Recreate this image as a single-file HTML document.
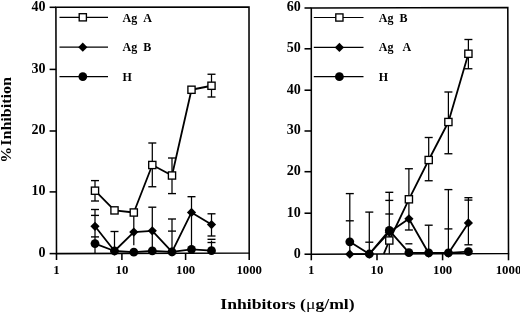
<!DOCTYPE html>
<html><head><meta charset="utf-8"><title>Inhibition chart</title>
<style>
html,body{margin:0;padding:0;background:#fff;}
body{width:520px;height:314px;overflow:hidden;}
svg{display:block;}
text{font-family:"Liberation Serif",serif;font-weight:bold;fill:#000;}
</style></head><body>
<svg width="520" height="314" viewBox="0 0 520 314">
<polygon points="55.9,7.2 249.0,7.0 249.2,253.1 56.5,253.6" fill="none" stroke="#000" stroke-width="1.55"/>
<line x1="56.50" y1="253.60" x2="56.50" y2="260.00" stroke="#000" stroke-width="1.55" />
<text transform="translate(56.50,273.50) scale(1.07,1)" font-size="12" text-anchor="middle" >1</text>
<line x1="121.90" y1="253.43" x2="121.90" y2="260.00" stroke="#000" stroke-width="1.55" />
<text transform="translate(121.90,273.50) scale(1.07,1)" font-size="12" text-anchor="middle" >10</text>
<line x1="185.60" y1="253.27" x2="185.60" y2="260.00" stroke="#000" stroke-width="1.55" />
<text transform="translate(185.60,273.50) scale(1.07,1)" font-size="12" text-anchor="middle" >100</text>
<line x1="249.20" y1="253.10" x2="249.20" y2="260.00" stroke="#000" stroke-width="1.55" />
<text transform="translate(249.20,273.50) scale(1.07,1)" font-size="12" text-anchor="middle" >1000</text>
<line x1="49.60" y1="253.60" x2="56.50" y2="253.60" stroke="#000" stroke-width="1.55" />
<text transform="translate(45.50,257.00) scale(0.97,1)" font-size="14.5" text-anchor="end" >0</text>
<line x1="49.60" y1="191.90" x2="56.35" y2="191.90" stroke="#000" stroke-width="1.55" />
<text transform="translate(45.50,195.30) scale(0.97,1)" font-size="14.5" text-anchor="end" >10</text>
<line x1="49.60" y1="131.00" x2="56.20" y2="131.00" stroke="#000" stroke-width="1.55" />
<text transform="translate(45.50,134.40) scale(0.97,1)" font-size="14.5" text-anchor="end" >20</text>
<line x1="49.60" y1="69.40" x2="56.05" y2="69.40" stroke="#000" stroke-width="1.55" />
<text transform="translate(45.50,72.80) scale(0.97,1)" font-size="14.5" text-anchor="end" >30</text>
<line x1="49.60" y1="7.30" x2="55.90" y2="7.30" stroke="#000" stroke-width="1.55" />
<text transform="translate(45.50,10.70) scale(0.97,1)" font-size="14.5" text-anchor="end" >40</text>
<line x1="95.00" y1="180.60" x2="95.00" y2="201.00" stroke="#000" stroke-width="1.25" />
<line x1="91.00" y1="180.60" x2="99.00" y2="180.60" stroke="#000" stroke-width="1.35" />
<line x1="91.00" y1="201.00" x2="99.00" y2="201.00" stroke="#000" stroke-width="1.35" />
<line x1="152.30" y1="143.00" x2="152.30" y2="186.75" stroke="#000" stroke-width="1.25" />
<line x1="148.30" y1="143.00" x2="156.30" y2="143.00" stroke="#000" stroke-width="1.35" />
<line x1="148.30" y1="186.75" x2="156.30" y2="186.75" stroke="#000" stroke-width="1.35" />
<line x1="172.00" y1="158.00" x2="172.00" y2="193.60" stroke="#000" stroke-width="1.25" />
<line x1="168.00" y1="158.00" x2="176.00" y2="158.00" stroke="#000" stroke-width="1.35" />
<line x1="168.00" y1="193.60" x2="176.00" y2="193.60" stroke="#000" stroke-width="1.35" />
<line x1="211.50" y1="74.25" x2="211.50" y2="97.00" stroke="#000" stroke-width="1.25" />
<line x1="207.50" y1="74.25" x2="215.50" y2="74.25" stroke="#000" stroke-width="1.35" />
<line x1="207.50" y1="97.00" x2="215.50" y2="97.00" stroke="#000" stroke-width="1.35" />
<line x1="95.00" y1="209.50" x2="95.00" y2="253.40" stroke="#000" stroke-width="1.25" />
<line x1="91.00" y1="209.50" x2="99.00" y2="209.50" stroke="#000" stroke-width="1.35" />
<line x1="91.00" y1="215.40" x2="99.00" y2="215.40" stroke="#000" stroke-width="1.35" />
<line x1="91.00" y1="236.90" x2="99.00" y2="236.90" stroke="#000" stroke-width="1.35" />
<line x1="114.50" y1="231.50" x2="114.50" y2="251.00" stroke="#000" stroke-width="1.25" />
<line x1="110.50" y1="231.50" x2="118.50" y2="231.50" stroke="#000" stroke-width="1.35" />
<line x1="133.80" y1="212.50" x2="133.80" y2="245.20" stroke="#000" stroke-width="1.25" />
<line x1="152.30" y1="207.20" x2="152.30" y2="250.90" stroke="#000" stroke-width="1.25" />
<line x1="148.30" y1="207.20" x2="156.30" y2="207.20" stroke="#000" stroke-width="1.35" />
<line x1="172.00" y1="219.00" x2="172.00" y2="251.80" stroke="#000" stroke-width="1.25" />
<line x1="168.00" y1="219.00" x2="176.00" y2="219.00" stroke="#000" stroke-width="1.35" />
<line x1="168.00" y1="231.10" x2="176.00" y2="231.10" stroke="#000" stroke-width="1.35" />
<line x1="191.50" y1="196.70" x2="191.50" y2="249.30" stroke="#000" stroke-width="1.25" />
<line x1="187.50" y1="196.70" x2="195.50" y2="196.70" stroke="#000" stroke-width="1.35" />
<line x1="211.50" y1="213.80" x2="211.50" y2="236.10" stroke="#000" stroke-width="1.25" />
<line x1="211.50" y1="240.60" x2="211.50" y2="250.70" stroke="#000" stroke-width="1.25" />
<line x1="207.50" y1="213.80" x2="215.50" y2="213.80" stroke="#000" stroke-width="1.35" />
<line x1="207.50" y1="236.00" x2="215.50" y2="236.00" stroke="#000" stroke-width="1.35" />
<line x1="207.50" y1="239.30" x2="215.50" y2="239.30" stroke="#000" stroke-width="1.35" />
<line x1="207.50" y1="242.50" x2="215.50" y2="242.50" stroke="#000" stroke-width="1.35" />
<polyline points="95.00,190.70 114.50,210.40 133.80,212.50 152.30,165.00 172.00,175.50 191.50,89.75 211.50,85.75" fill="none" stroke="#000" stroke-width="1.8" stroke-linejoin="round"/>
<polyline points="95.00,226.30 114.50,251.00 133.80,232.10 152.30,230.80 172.00,251.80 191.50,212.40 211.50,224.60" fill="none" stroke="#000" stroke-width="1.8" stroke-linejoin="round"/>
<polyline points="95.00,243.60 114.50,251.00 133.80,252.20 152.30,250.90 172.00,251.90 191.50,249.30 211.50,250.70" fill="none" stroke="#000" stroke-width="1.8" stroke-linejoin="round"/>
<rect x="91.40" y="187.10" width="7.2" height="7.2" fill="#fff" stroke="#000" stroke-width="1.35"/>
<rect x="110.90" y="206.80" width="7.2" height="7.2" fill="#fff" stroke="#000" stroke-width="1.35"/>
<rect x="130.20" y="208.90" width="7.2" height="7.2" fill="#fff" stroke="#000" stroke-width="1.35"/>
<rect x="148.70" y="161.40" width="7.2" height="7.2" fill="#fff" stroke="#000" stroke-width="1.35"/>
<rect x="168.40" y="171.90" width="7.2" height="7.2" fill="#fff" stroke="#000" stroke-width="1.35"/>
<rect x="187.90" y="86.15" width="7.2" height="7.2" fill="#fff" stroke="#000" stroke-width="1.35"/>
<rect x="207.90" y="82.15" width="7.2" height="7.2" fill="#fff" stroke="#000" stroke-width="1.35"/>
<polygon points="95.00,221.70 99.60,226.30 95.00,230.90 90.40,226.30" fill="#000"/>
<polygon points="114.50,246.40 119.10,251.00 114.50,255.60 109.90,251.00" fill="#000"/>
<polygon points="133.80,227.50 138.40,232.10 133.80,236.70 129.20,232.10" fill="#000"/>
<polygon points="152.30,226.20 156.90,230.80 152.30,235.40 147.70,230.80" fill="#000"/>
<polygon points="172.00,247.20 176.60,251.80 172.00,256.40 167.40,251.80" fill="#000"/>
<polygon points="191.50,207.80 196.10,212.40 191.50,217.00 186.90,212.40" fill="#000"/>
<polygon points="211.50,220.00 216.10,224.60 211.50,229.20 206.90,224.60" fill="#000"/>
<circle cx="95.00" cy="243.60" r="4.4" fill="#000"/>
<circle cx="114.50" cy="251.00" r="4.4" fill="#000"/>
<circle cx="133.80" cy="252.20" r="4.4" fill="#000"/>
<circle cx="152.30" cy="250.90" r="4.4" fill="#000"/>
<circle cx="172.00" cy="251.90" r="4.4" fill="#000"/>
<circle cx="191.50" cy="249.30" r="4.4" fill="#000"/>
<circle cx="211.50" cy="250.70" r="4.4" fill="#000"/>
<line x1="59.50" y1="17.30" x2="108.00" y2="17.30" stroke="#000" stroke-width="1.2" />
<rect x="79.20" y="13.70" width="7.2" height="7.2" fill="#fff" stroke="#000" stroke-width="1.35"/>
<text transform="translate(122.50,21.80) scale(1.0,1)" font-size="12" text-anchor="start" xml:space="preserve">Ag&#160;&#160;A</text>
<line x1="59.50" y1="47.20" x2="108.00" y2="47.20" stroke="#000" stroke-width="1.2" />
<polygon points="82.80,42.60 87.40,47.20 82.80,51.80 78.20,47.20" fill="#000"/>
<text transform="translate(122.50,51.30) scale(1.0,1)" font-size="12" text-anchor="start" xml:space="preserve">Ag&#160;&#160;B</text>
<line x1="59.50" y1="76.60" x2="108.00" y2="76.60" stroke="#000" stroke-width="1.2" />
<circle cx="82.80" cy="76.60" r="4.4" fill="#000"/>
<text transform="translate(122.50,81.30) scale(1.0,1)" font-size="12" text-anchor="start" xml:space="preserve">H</text>
<polygon points="311.3,8.0 507.8,7.5 508.5,253.4 311.3,254.2" fill="none" stroke="#000" stroke-width="1.55"/>
<line x1="311.30" y1="254.20" x2="311.30" y2="260.30" stroke="#000" stroke-width="1.55" />
<text transform="translate(311.30,274.30) scale(1.07,1)" font-size="12" text-anchor="middle" >1</text>
<line x1="377.00" y1="253.93" x2="377.00" y2="260.30" stroke="#000" stroke-width="1.55" />
<text transform="translate(377.00,274.30) scale(1.07,1)" font-size="12" text-anchor="middle" >10</text>
<line x1="442.60" y1="253.67" x2="442.60" y2="260.30" stroke="#000" stroke-width="1.55" />
<text transform="translate(442.60,274.30) scale(1.07,1)" font-size="12" text-anchor="middle" >100</text>
<line x1="508.50" y1="253.40" x2="508.50" y2="260.30" stroke="#000" stroke-width="1.55" />
<text transform="translate(508.50,274.30) scale(1.07,1)" font-size="12" text-anchor="middle" >1000</text>
<line x1="304.50" y1="254.20" x2="311.30" y2="254.20" stroke="#000" stroke-width="1.55" />
<text transform="translate(300.70,257.50) scale(0.97,1)" font-size="14.5" text-anchor="end" >0</text>
<line x1="304.50" y1="213.20" x2="311.30" y2="213.20" stroke="#000" stroke-width="1.55" />
<text transform="translate(300.70,216.50) scale(0.97,1)" font-size="14.5" text-anchor="end" >10</text>
<line x1="304.50" y1="171.70" x2="311.30" y2="171.70" stroke="#000" stroke-width="1.55" />
<text transform="translate(300.70,175.00) scale(0.97,1)" font-size="14.5" text-anchor="end" >20</text>
<line x1="304.50" y1="131.00" x2="311.30" y2="131.00" stroke="#000" stroke-width="1.55" />
<text transform="translate(300.70,134.30) scale(0.97,1)" font-size="14.5" text-anchor="end" >30</text>
<line x1="304.50" y1="90.20" x2="311.30" y2="90.20" stroke="#000" stroke-width="1.55" />
<text transform="translate(300.70,93.50) scale(0.97,1)" font-size="14.5" text-anchor="end" >40</text>
<line x1="304.50" y1="48.80" x2="311.30" y2="48.80" stroke="#000" stroke-width="1.55" />
<text transform="translate(300.70,52.10) scale(0.97,1)" font-size="14.5" text-anchor="end" >50</text>
<line x1="304.50" y1="8.00" x2="311.30" y2="8.00" stroke="#000" stroke-width="1.55" />
<text transform="translate(300.70,11.30) scale(0.97,1)" font-size="14.5" text-anchor="end" >60</text>
<line x1="349.80" y1="193.60" x2="349.80" y2="254.00" stroke="#000" stroke-width="1.25" />
<line x1="345.80" y1="193.60" x2="353.80" y2="193.60" stroke="#000" stroke-width="1.35" />
<line x1="345.80" y1="220.80" x2="353.80" y2="220.80" stroke="#000" stroke-width="1.35" />
<line x1="369.30" y1="212.10" x2="369.30" y2="254.00" stroke="#000" stroke-width="1.25" />
<line x1="365.30" y1="212.10" x2="373.30" y2="212.10" stroke="#000" stroke-width="1.35" />
<line x1="365.30" y1="242.20" x2="373.30" y2="242.20" stroke="#000" stroke-width="1.35" />
<line x1="389.30" y1="192.30" x2="389.30" y2="253.80" stroke="#000" stroke-width="1.25" />
<line x1="385.30" y1="192.30" x2="393.30" y2="192.30" stroke="#000" stroke-width="1.35" />
<line x1="385.30" y1="200.40" x2="393.30" y2="200.40" stroke="#000" stroke-width="1.35" />
<line x1="385.30" y1="214.00" x2="393.30" y2="214.00" stroke="#000" stroke-width="1.35" />
<line x1="408.90" y1="168.75" x2="408.90" y2="230.00" stroke="#000" stroke-width="1.25" />
<line x1="404.90" y1="168.75" x2="412.90" y2="168.75" stroke="#000" stroke-width="1.35" />
<line x1="404.90" y1="230.00" x2="412.90" y2="230.00" stroke="#000" stroke-width="1.35" />
<line x1="405.40" y1="243.80" x2="412.40" y2="243.80" stroke="#000" stroke-width="1.35" />
<line x1="428.70" y1="137.50" x2="428.70" y2="180.75" stroke="#000" stroke-width="1.25" />
<line x1="424.70" y1="137.50" x2="432.70" y2="137.50" stroke="#000" stroke-width="1.35" />
<line x1="424.70" y1="180.75" x2="432.70" y2="180.75" stroke="#000" stroke-width="1.35" />
<line x1="428.70" y1="225.20" x2="428.70" y2="252.80" stroke="#000" stroke-width="1.25" />
<line x1="424.70" y1="225.20" x2="432.70" y2="225.20" stroke="#000" stroke-width="1.35" />
<line x1="448.40" y1="92.00" x2="448.40" y2="153.75" stroke="#000" stroke-width="1.25" />
<line x1="444.40" y1="92.00" x2="452.40" y2="92.00" stroke="#000" stroke-width="1.35" />
<line x1="444.40" y1="153.75" x2="452.40" y2="153.75" stroke="#000" stroke-width="1.35" />
<line x1="448.40" y1="189.60" x2="448.40" y2="252.80" stroke="#000" stroke-width="1.25" />
<line x1="444.40" y1="189.60" x2="452.40" y2="189.60" stroke="#000" stroke-width="1.35" />
<line x1="444.40" y1="228.90" x2="452.40" y2="228.90" stroke="#000" stroke-width="1.35" />
<line x1="468.40" y1="39.50" x2="468.40" y2="68.75" stroke="#000" stroke-width="1.25" />
<line x1="464.40" y1="39.50" x2="472.40" y2="39.50" stroke="#000" stroke-width="1.35" />
<line x1="464.40" y1="68.75" x2="472.40" y2="68.75" stroke="#000" stroke-width="1.35" />
<line x1="468.40" y1="197.70" x2="468.40" y2="244.80" stroke="#000" stroke-width="1.25" />
<line x1="464.40" y1="197.70" x2="472.40" y2="197.70" stroke="#000" stroke-width="1.35" />
<line x1="464.40" y1="200.10" x2="472.40" y2="200.10" stroke="#000" stroke-width="1.35" />
<line x1="464.40" y1="244.80" x2="472.40" y2="244.80" stroke="#000" stroke-width="1.35" />
<polyline points="383.80,253.80 389.30,240.50 408.90,199.30 428.70,160.00 448.40,122.00 468.40,53.75" fill="none" stroke="#000" stroke-width="1.8" stroke-linejoin="round"/>
<polyline points="349.80,254.20 369.30,254.00 389.30,232.20 408.90,218.80 428.70,253.20 448.40,253.20 468.40,222.90" fill="none" stroke="#000" stroke-width="1.8" stroke-linejoin="round"/>
<polyline points="349.80,241.80 369.30,254.00 389.30,230.40 408.90,252.70 428.70,252.80 448.40,252.80 468.40,251.60" fill="none" stroke="#000" stroke-width="1.8" stroke-linejoin="round"/>
<rect x="385.70" y="236.90" width="7.2" height="7.2" fill="#fff" stroke="#000" stroke-width="1.35"/>
<rect x="405.30" y="195.70" width="7.2" height="7.2" fill="#fff" stroke="#000" stroke-width="1.35"/>
<rect x="425.10" y="156.40" width="7.2" height="7.2" fill="#fff" stroke="#000" stroke-width="1.35"/>
<rect x="444.80" y="118.40" width="7.2" height="7.2" fill="#fff" stroke="#000" stroke-width="1.35"/>
<rect x="464.80" y="50.15" width="7.2" height="7.2" fill="#fff" stroke="#000" stroke-width="1.35"/>
<polygon points="349.80,249.60 354.40,254.20 349.80,258.80 345.20,254.20" fill="#000"/>
<polygon points="369.30,249.40 373.90,254.00 369.30,258.60 364.70,254.00" fill="#000"/>
<polygon points="389.30,227.60 393.90,232.20 389.30,236.80 384.70,232.20" fill="#000"/>
<polygon points="408.90,214.20 413.50,218.80 408.90,223.40 404.30,218.80" fill="#000"/>
<polygon points="428.70,248.60 433.30,253.20 428.70,257.80 424.10,253.20" fill="#000"/>
<polygon points="448.40,248.60 453.00,253.20 448.40,257.80 443.80,253.20" fill="#000"/>
<polygon points="468.40,218.30 473.00,222.90 468.40,227.50 463.80,222.90" fill="#000"/>
<circle cx="349.80" cy="241.80" r="4.4" fill="#000"/>
<circle cx="369.30" cy="254.00" r="4.4" fill="#000"/>
<circle cx="389.30" cy="230.40" r="4.4" fill="#000"/>
<circle cx="408.90" cy="252.70" r="4.4" fill="#000"/>
<circle cx="428.70" cy="252.80" r="4.4" fill="#000"/>
<circle cx="448.40" cy="252.80" r="4.4" fill="#000"/>
<circle cx="468.40" cy="251.60" r="4.4" fill="#000"/>
<line x1="313.80" y1="17.50" x2="363.50" y2="17.50" stroke="#000" stroke-width="1.2" />
<rect x="335.80" y="13.90" width="7.2" height="7.2" fill="#fff" stroke="#000" stroke-width="1.35"/>
<text transform="translate(378.80,21.80) scale(1.0,1)" font-size="12" text-anchor="start" xml:space="preserve">Ag&#160;&#160;B</text>
<line x1="313.80" y1="47.40" x2="363.50" y2="47.40" stroke="#000" stroke-width="1.2" />
<polygon points="339.40,42.80 344.00,47.40 339.40,52.00 334.80,47.40" fill="#000"/>
<text transform="translate(378.80,51.40) scale(1.0,1)" font-size="12" text-anchor="start" xml:space="preserve">Ag&#160;&#160;&#160;A</text>
<line x1="313.80" y1="76.70" x2="363.50" y2="76.70" stroke="#000" stroke-width="1.2" />
<circle cx="339.40" cy="76.70" r="4.4" fill="#000"/>
<text transform="translate(378.80,81.30) scale(1.0,1)" font-size="12" text-anchor="start" xml:space="preserve">H</text>
<text transform="translate(220.3,308.5) scale(1.16,1)" font-size="15.2" id="xlab">Inhibitors (<tspan font-weight="normal">&#956;</tspan>g/ml)</text>
<text transform="translate(11.4,120.0) rotate(-90) scale(1.145,1)" font-size="14" word-spacing="-2.5" text-anchor="middle" id="ylab">% Inhibition</text>
</svg>
</body></html>
